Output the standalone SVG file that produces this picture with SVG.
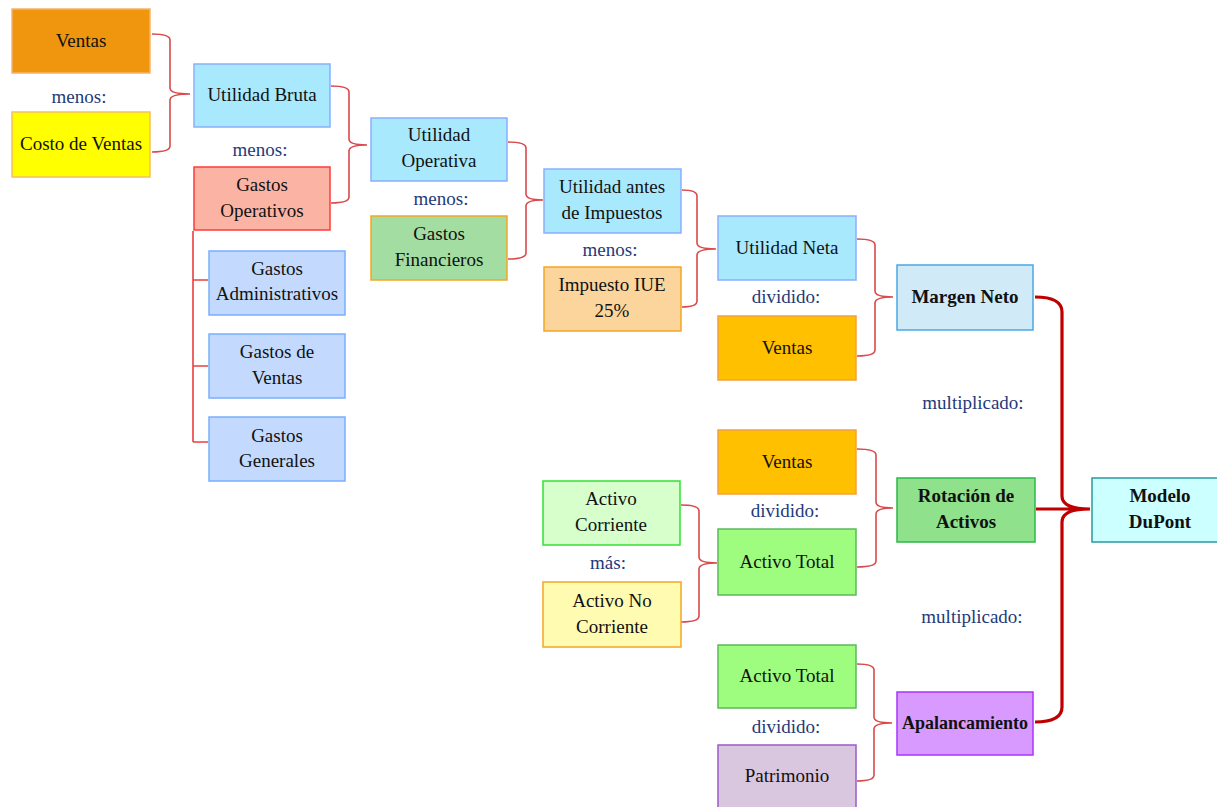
<svg xmlns="http://www.w3.org/2000/svg" width="1217" height="807" viewBox="0 0 1217 807">
<style>
text{font-family:'Liberation Serif',Tinos,'Times New Roman','DejaVu Serif',serif;font-size:19px;fill:#111;text-anchor:middle}
text.op{fill:#1F3A78}
text.b{font-weight:bold}
text.s{font-size:18px}
rect{stroke-width:1.5}
.br{fill:none;stroke:#D94A4A;stroke-width:1.6}
.big{fill:none;stroke:#C00000;stroke-width:3.2}
.tree{fill:none;stroke:#E84040;stroke-width:1.6}
</style>
<rect x="0" y="0" width="1217" height="807" fill="#fff"/>
<g id="connectors">
<path class="br" d="M152,34 Q170,34 170,40 V88 Q170,94 190,94 M152,152 Q170,152 170,146 V100 Q170,94 190,94"/>
<path class="br" d="M331,86 Q349,86 349,92 V139 Q349,145 367,145 M331,203 Q349,203 349,197 V151 Q349,145 367,145"/>
<path class="br" d="M508,142 Q526,142 526,148 V194 Q526,200 543,200 M508,259 Q526,259 526,253 V206 Q526,200 543,200"/>
<path class="br" d="M682,190 Q697,190 697,196 V243 Q697,249 716,249 M682,307 Q697,307 697,301 V255 Q697,249 716,249"/>
<path class="br" d="M857,239 Q875,239 875,245 V291 Q875,297 893,297 M857,356 Q875,356 875,350 V303 Q875,297 893,297"/>
<path class="br" d="M857,449 Q876,449 876,455 V502 Q876,508 893,508 M857,567 Q876,567 876,561 V514 Q876,508 893,508"/>
<path class="br" d="M681,505 Q699,505 699,511 V557 Q699,563 717,563 M681,622 Q699,622 699,616 V569 Q699,563 717,563"/>
<path class="br" d="M857,664 Q874,664 874,670 V717 Q874,723 892,723 M857,781 Q874,781 874,775 V729 Q874,723 892,723"/>
<path class="tree" d="M193,231 V442 M193,280 H208 M193,366 H208 M193,442 H208"/>
<path class="big" d="M1035,297 Q1062,297 1062,312 V496 Q1062,509 1090,509 M1035,722 Q1062,722 1062,707 V522 Q1062,509 1090,509 M1036,509 H1090"/>
</g>
<g id="ventas1"><rect x="12" y="9" width="138" height="64" fill="#EF960E" stroke="#F5B46A"/><text x="81" y="47">Ventas</text></g>
<g id="costo"><rect x="12" y="112" width="138" height="65" fill="#FFFF00" stroke="#F5C060"/><text x="81" y="150">Costo de Ventas</text></g>
<g id="utilidad-bruta"><rect x="194" y="64" width="136" height="63" fill="#A9E9FD" stroke="#8AAEFF"/><text x="262" y="101">Utilidad Bruta</text></g>
<g id="gastos-operativos"><rect x="194" y="167" width="136" height="63" fill="#FBB4A4" stroke="#FF3B3B"/><text x="262" y="191">Gastos</text><text x="262" y="217">Operativos</text></g>
<g id="gastos-admin"><rect x="209" y="251" width="136" height="64" fill="#C3DAFE" stroke="#79AEFF"/><text x="277" y="275">Gastos</text><text x="277" y="300">Administrativos</text></g>
<g id="gastos-ventas"><rect x="209" y="334" width="136" height="64" fill="#C3DAFE" stroke="#79AEFF"/><text x="277" y="358">Gastos de</text><text x="277" y="384">Ventas</text></g>
<g id="gastos-generales"><rect x="209" y="417" width="136" height="64" fill="#C3DAFE" stroke="#79AEFF"/><text x="277" y="442">Gastos</text><text x="277" y="467">Generales</text></g>
<g id="utilidad-operativa"><rect x="371" y="118" width="136" height="63" fill="#A9E9FD" stroke="#8AAEFF"/><text x="439" y="141">Utilidad</text><text x="439" y="167">Operativa</text></g>
<g id="gastos-financieros"><rect x="371" y="216" width="136" height="64" fill="#A4DDA2" stroke="#F5A623"/><text x="439" y="240">Gastos</text><text x="439" y="266">Financieros</text></g>
<g id="utilidad-antes"><rect x="544" y="169" width="137" height="64" fill="#A9E9FD" stroke="#8AAEFF"/><text x="612" y="193">Utilidad antes</text><text x="612" y="219">de Impuestos</text></g>
<g id="impuesto"><rect x="544" y="267" width="137" height="64" fill="#FBD59C" stroke="#F5A623"/><text x="612" y="291">Impuesto IUE</text><text x="612" y="317">25%</text></g>
<g id="utilidad-neta"><rect x="718" y="216" width="138" height="64" fill="#A9E9FD" stroke="#8AAEFF"/><text x="787" y="254">Utilidad Neta</text></g>
<g id="ventas2"><rect x="718" y="316" width="138" height="64" fill="#FFC000" stroke="#F5A040"/><text x="787" y="354">Ventas</text></g>
<g id="margen-neto"><rect x="897" y="265" width="136" height="65" fill="#D1EAF8" stroke="#4AA8E2"/><text class="b" x="965" y="303">Margen Neto</text></g>
<g id="ventas3"><rect x="718" y="430" width="138" height="64" fill="#FFC000" stroke="#F5A040"/><text x="787" y="468">Ventas</text></g>
<g id="activo-total"><rect x="718" y="529" width="138" height="66" fill="#9EFC7E" stroke="#5CB85C"/><text x="787" y="568">Activo Total</text></g>
<g id="activo-corriente"><rect x="543" y="481" width="137" height="64" fill="#D6FFCC" stroke="#35E035"/><text x="611" y="505">Activo</text><text x="611" y="531">Corriente</text></g>
<g id="activo-no-corriente"><rect x="543" y="582" width="138" height="65" fill="#FFFCB2" stroke="#F5A623"/><text x="612" y="607">Activo No</text><text x="612" y="633">Corriente</text></g>
<g id="rotacion"><rect x="897" y="478" width="138" height="64" fill="#8FE18B" stroke="#2DB84A"/><text class="b" x="966" y="502">Rotación de</text><text class="b" x="966" y="528">Activos</text></g>
<g id="modelo-dupont"><rect x="1092" y="478" width="140" height="64" fill="#CCFFFF" stroke="#2A9AA0"/><text class="b" x="1160" y="502">Modelo</text><text class="b" x="1160" y="528">DuPont</text></g>
<g id="activo-total2"><rect x="718" y="645" width="138" height="63" fill="#9EFC7E" stroke="#5CB85C"/><text x="787" y="682">Activo Total</text></g>
<g id="patrimonio"><rect x="718" y="745" width="138" height="70" fill="#D9C6DF" stroke="#9A5CC8"/><text x="787" y="782">Patrimonio</text></g>
<g id="apalancamiento"><rect x="897" y="692" width="136" height="63" fill="#D99AFF" stroke="#AA33FF"/><text class="b s" x="965" y="729">Apalancamiento</text></g>
<g id="labels">
<text class="op" x="79" y="103">menos:</text>
<text class="op" x="260" y="156">menos:</text>
<text class="op" x="441" y="205">menos:</text>
<text class="op" x="610" y="256">menos:</text>
<text class="op" x="786" y="303">dividido:</text>
<text class="op" x="973" y="409">multiplicado:</text>
<text class="op" x="785" y="517">dividido:</text>
<text class="op" x="608" y="569">más:</text>
<text class="op" x="972" y="623">multiplicado:</text>
<text class="op" x="786" y="733">dividido:</text>
</g>
</svg>
